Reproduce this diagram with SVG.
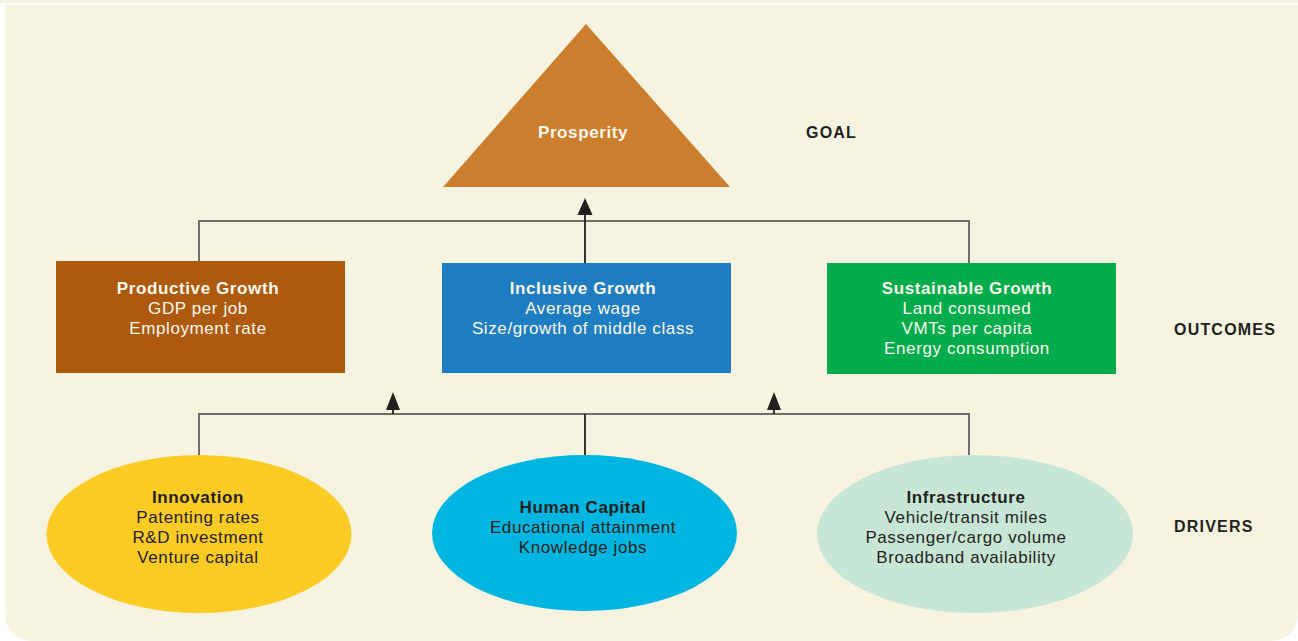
<svg xmlns="http://www.w3.org/2000/svg" width="1298" height="641" viewBox="0 0 1298 641">
  <defs>
    <style>
      .bg { fill: #f6f4e1; }
      .t { font-family: "Liberation Sans", Arial, sans-serif; font-size: 17px; text-anchor: middle; letter-spacing: 0.6px; }
      .b { font-weight: bold; }
      .light { fill: #fbf8ec; }
      .dark { fill: #231f20; }
      .tier { font-family: "Liberation Sans", Arial, sans-serif; font-size: 16px; font-weight: bold; fill: #231f20; letter-spacing: 1.2px; }
      .wire { fill: none; stroke: #6f6d66; stroke-width: 2; }
      .stem { fill: none; stroke: #231f20; stroke-width: 1.8; }
    </style>
  </defs>

  <!-- panel background -->
  <rect x="0" y="0" width="1298" height="3" class="bg"/>
  <path class="bg" d="M5,5 H1298 V611 Q1298,641 1268,641 H35 Q5,641 5,611 Z"/>

  <!-- connectors -->
  <g id="connectors">
    <!-- outcomes to goal -->
    <polyline class="wire" points="199,261 199,221 969,221 969,263"/>
    <line class="stem" x1="585" y1="263" x2="585" y2="214"/>
    <path d="M585,198 L577.5,215 L592.5,215 Z" fill="#231f20"/>
    <!-- drivers to outcomes -->
    <polyline class="wire" points="199,455 199,414 969,414 969,455"/>
    <line class="stem" x1="585" y1="414" x2="585" y2="455"/>
    <line class="stem" x1="393" y1="414" x2="393" y2="408"/>
    <path d="M393,392 L386,410 L400,410 Z" fill="#231f20"/>
    <line class="stem" x1="774" y1="414" x2="774" y2="408"/>
    <path d="M774,392 L767,410 L781,410 Z" fill="#231f20"/>
  </g>

  <!-- goal -->
  <g id="prosperity">
    <polygon points="586,24 443,187 730,187" fill="#cb7e2e"/>
    <text class="t b light" x="583" y="138">Prosperity</text>
  </g>

  <!-- outcomes -->
  <g id="productive-growth">
    <rect x="56" y="261" width="289" height="112" fill="#ad5a0f"/>
    <text class="t b light" x="198" y="294">Productive Growth</text>
    <text class="t light" x="198" y="314">GDP per job</text>
    <text class="t light" x="198" y="334">Employment rate</text>
  </g>
  <g id="inclusive-growth">
    <rect x="442" y="263" width="289" height="110" fill="#1f7dc1"/>
    <text class="t b light" x="583" y="294">Inclusive Growth</text>
    <text class="t light" x="583" y="314">Average wage</text>
    <text class="t light" x="583" y="334">Size/growth of middle class</text>
  </g>
  <g id="sustainable-growth">
    <rect x="827" y="263" width="289" height="111" fill="#00ac4b"/>
    <text class="t b light" x="967" y="294">Sustainable Growth</text>
    <text class="t light" x="967" y="314">Land consumed</text>
    <text class="t light" x="967" y="334">VMTs per capita</text>
    <text class="t light" x="967" y="354">Energy consumption</text>
  </g>

  <!-- drivers -->
  <g id="innovation">
    <ellipse cx="199" cy="534" rx="152.5" ry="79" fill="#fccb24"/>
    <text class="t b dark" x="198" y="503">Innovation</text>
    <text class="t dark" x="198" y="523">Patenting rates</text>
    <text class="t dark" x="198" y="543">R&amp;D investment</text>
    <text class="t dark" x="198" y="563">Venture capital</text>
  </g>
  <g id="human-capital">
    <ellipse cx="584.5" cy="533" rx="152.5" ry="78" fill="#00b5df"/>
    <text class="t b dark" x="583" y="513">Human Capital</text>
    <text class="t dark" x="583" y="533">Educational attainment</text>
    <text class="t dark" x="583" y="553">Knowledge jobs</text>
  </g>
  <g id="infrastructure">
    <ellipse cx="975" cy="534" rx="158" ry="79" fill="#c8e6d6"/>
    <text class="t b dark" x="966" y="503">Infrastructure</text>
    <text class="t dark" x="966" y="523">Vehicle/transit miles</text>
    <text class="t dark" x="966" y="543">Passenger/cargo volume</text>
    <text class="t dark" x="966" y="563">Broadband availability</text>
  </g>

  <!-- tier labels -->
  <g id="tier-labels">
    <text class="tier" x="806" y="138">GOAL</text>
    <text class="tier" x="1174" y="335">OUTCOMES</text>
    <text class="tier" x="1174" y="532">DRIVERS</text>
  </g>
</svg>
